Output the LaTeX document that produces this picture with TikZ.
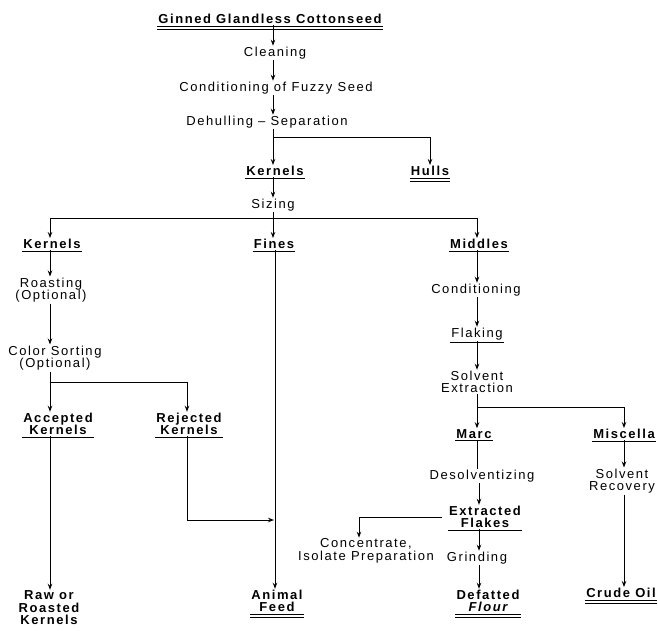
\documentclass[tikz,border=0pt]{standalone}
\usepackage{fontspec}
\newfontfamily\flowfont{Liberation Sans}[LetterSpace=12]
\usepackage{tikz}
\usetikzlibrary{arrows.meta}

\begin{document}
\begin{tikzpicture}[x=1pt,y=-1pt]
                \tikzstyle{process}=[font={\flowfont\fontsize{13}{12.5}\selectfont}, inner sep=1pt, align=center]
                \tikzstyle{product}=[process, font={\flowfont\bfseries\fontsize{13}{12.5}\selectfont}]
                \tikzstyle{connect}=[line width=1pt]
                \tikzstyle{flow}=[connect, -{Stealth[length=6pt,width=4.5pt]}]
                \tikzstyle{underl}=[line width=0.9pt]
                \tikzstyle{underlthick}=[line width=1.4pt]
                \useasboundingbox (0,0) rectangle (658,630);
                \coordinate (cA) at (273,0);
                \coordinate (cF) at (275,0);
                \coordinate (cL) at (50,0);
                \coordinate (cR) at (187,0);
                \coordinate (cM) at (477,0);
                \coordinate (cS) at (624,0);
                \coordinate (cC) at (359,0);
                \node[product] (title) at (270,19){Ginned Glandless Cottonseed};
                \node[process] (clean) at (275,53){Cleaning};
                \node[process] (cond) at (276,88){Conditioning of Fuzzy Seed};
                \node[process] (dehull) at (267,122){Dehulling – Separation};
                \node[product] (kern) at (275,171){Kernels};
                \node[product] (hulls) at (430,171){Hulls};
                \node[process] (sizing) at (273,205){Sizing};
    \node[product] (kernL) at (52,244){Kernels};
                \node[product] (fines) at (274,244){Fines};
                \node[product] (middles) at (479,244){Middles};
                \node[process] (roast) at (51,290){Roasting\\(Optional)};
                \node[process] (condR) at (476,290){Conditioning};
                \node[process] (flaking) at (477,334){Flaking};
                \node[process] (color) at (55,358){Color Sorting\\(Optional)};
                \node[process] (solvext) at (477,382){Solvent\\Extraction};
                \node[product] (acc) at (58,424){Accepted\\Kernels};
                \node[product] (rej) at (189,424){Rejected\\Kernels};
                \node[product] (marc) at (474,434){Marc};
                \node[product] (misc) at (624,434){Miscella};
                \node[process] (desolv) at (482,476){Desolventizing};
                \node[process] (solvrec) at (622,481){Solvent\\Recovery};
                \node[product] (extfl) at (485,517){Extracted\\Flakes};
                \node[process] (conc) at (366,551){Concentrate,\\Isolate Preparation};
                \node[process] (grind) at (477,558){Grinding};
                \node[product] (raw) at (49,608){Raw or\\Roasted\\Kernels};
                \node[product] (feed) at (277,601){Animal\\Feed};
                \node[product] (flour) at (488,601){Defatted\\{\itshape Flour}};
                \node[product] (crude) at (621,593){Crude Oil};
                \coordinate (j1) at (273,137);
                \coordinate (j2) at (273,218);
                \coordinate (j3) at (50,382);
                \coordinate (j4) at (477,407);
                \coordinate (j5) at (274,520);
                \draw[underl] ([yshift=-1pt]title.south west) -- ([yshift=-1pt]title.south east);
                \draw[underlthick] ([yshift=-4.5pt]title.south west) -- ([yshift=-4.5pt]title.south east);
                \draw[underl] ([yshift=-1pt]kern.south west) -- ([yshift=-1pt]kern.south east);
                \draw[underl] ([yshift=-1pt]hulls.south west) -- ([yshift=-1pt]hulls.south east);
                \draw[underlthick] ([yshift=-4.5pt]hulls.south west) -- ([yshift=-4.5pt]hulls.south east);
                \draw[underl] ([yshift=-1pt]kernL.south west) -- ([yshift=-1pt]kernL.south east);
                \draw[underl] ([yshift=-1pt]fines.south west) -- ([yshift=-1pt]fines.south east);
                \draw[underl] ([yshift=-1pt]middles.south west) -- ([yshift=-1pt]middles.south east);
                \draw[underl] ([yshift=-1pt]flaking.south west) -- ([yshift=-1pt]flaking.south east);
                \draw[underl] ([yshift=-1pt]acc.south west) -- ([yshift=-1pt]acc.south east);
                \draw[underl] ([yshift=-1pt]rej.south west) -- ([yshift=-1pt]rej.south east);
                \draw[underl] ([yshift=-1pt]marc.south west) -- ([yshift=-1pt]marc.south east);
                \draw[underl] ([yshift=-1pt]misc.south west) -- ([yshift=-1pt]misc.south east);
                \draw[underl] ([yshift=-1pt]extfl.south west) -- ([yshift=-1pt]extfl.south east);
                \draw[underl] ([yshift=-1pt]feed.south west) -- ([yshift=-1pt]feed.south east);
                \draw[underlthick] ([yshift=-4.5pt]feed.south west) -- ([yshift=-4.5pt]feed.south east);
                \draw[underl] ([yshift=-1pt]flour.south west) -- ([yshift=-1pt]flour.south east);
                \draw[underlthick] ([yshift=-4.5pt]flour.south west) -- ([yshift=-4.5pt]flour.south east);
                \draw[underl] ([yshift=-1pt]crude.south west) -- ([yshift=-1pt]crude.south east);
                \draw[underlthick] ([yshift=-4.5pt]crude.south west) -- ([yshift=-4.5pt]crude.south east);
                \draw[flow] (title.south -| cA) -- (clean.north -| cA);
                \draw[flow] (clean.south -| cA) -- (cond.north -| cA);
                \draw[flow] (cond.south -| cA) -- (dehull.north -| cA);
                \draw[flow] (dehull.south -| cA) -- (kern.north -| cA);
                \draw[flow] (j1) -| (hulls.north);
                \draw[flow] (kern.south -| cA) -- (sizing.north -| cA);
                \draw[flow] (sizing.south -| cA) -- (fines.north -| cA);
                \draw[flow] (j2) -| (kernL.north -| cL);
                \draw[flow] (j2) -| (middles.north -| cM);
                \draw[flow] (kernL.south -| cL) -- (roast.north -| cL);
                \draw[flow] (roast.south -| cL) -- (color.north -| cL);
                \draw[flow] (color.south -| cL) -- (acc.north -| cL);
                \draw[flow] (j3) -| (rej.north -| cR);
                \draw[flow] (acc.south -| cL) -- (raw.north -| cL);
                \draw[flow] (rej.south -| cR) |- (j5);
                \draw[flow] (fines.south -| cF) -- (feed.north -| cF);
                \draw[flow] (middles.south -| cM) -- (condR.north -| cM);
                \draw[flow] (condR.south -| cM) -- (flaking.north -| cM);
                \draw[flow] (flaking.south -| cM) -- (solvext.north -| cM);
                \draw[flow] (solvext.south -| cM) -- (marc.north -| cM);
                \draw[flow] (j4) -| (misc.north -| cS);
                \draw[connect] (marc.south -| cM) -- (desolv.north -| cM);
                \draw[flow] ([xshift=2pt]desolv.south -| cM) -- ([xshift=2pt]extfl.north -| cM);
                \draw[flow] ([xshift=2pt]extfl.south -| cM) -- ([xshift=2pt]grind.north -| cM);
                \draw[flow] ([xshift=2pt]grind.south -| cM) -- ([xshift=2pt]flour.north -| cM);
                \draw[flow] ([xshift=-6pt]extfl.west) -| (conc.north -| cC);
                \draw[flow] (misc.south -| cS) -- (solvrec.north -| cS);
                \draw[flow] (solvrec.south -| cS) -- (crude.north -| cS);
    \end{tikzpicture}
\end{document}
